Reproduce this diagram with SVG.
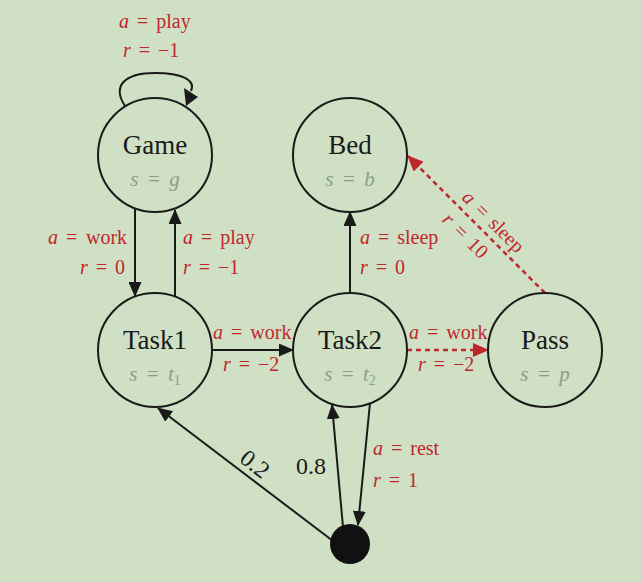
<svg xmlns="http://www.w3.org/2000/svg" width="641" height="582" viewBox="0 0 641 582">
<defs>
<style>
.bg{fill:#cfe0c4}
.node{fill:none;stroke:#1a1a1a;stroke-width:2}
.name{font-family:"Liberation Serif","DejaVu Serif",serif;font-size:27px;fill:#1a1a1a;text-anchor:middle}
.sv{font-family:"Liberation Serif","DejaVu Serif",serif;font-size:21px;fill:#8c9c88;text-anchor:middle;font-style:italic;word-spacing:3px}
.lbl{font-family:"Liberation Serif","DejaVu Serif",serif;font-size:20px;fill:#c0272d;word-spacing:3px}
.num{font-family:"Liberation Serif","DejaVu Serif",serif;font-size:24px;fill:#1a1a1a}
.i{font-style:italic}
.e{fill:none;stroke:#1a1a1a;stroke-width:2}
.ed{fill:none;stroke:#c0272d;stroke-width:2.5;stroke-dasharray:5 4}
</style>
<marker id="ah" viewBox="0 0 15 13" refX="14" refY="6.5" markerWidth="15" markerHeight="13" markerUnits="userSpaceOnUse" orient="auto">
<path d="M0,0 L15,6.5 L0,13 z" fill="#1a1a1a"/>
</marker>
<marker id="ahr" viewBox="0 0 16 14" refX="15" refY="7" markerWidth="16" markerHeight="14" markerUnits="userSpaceOnUse" orient="auto">
<path d="M0,0 L16,7 L0,14 z" fill="#c0272d"/>
</marker>
</defs>
<rect class="bg" x="0" y="0" width="641" height="582"/>

<g id="connectors">
<path class="e" d="M125,106 C112,86 124,73 155,73 C182,73 196,80 191,91"/>
<path d="M198,97 L184,88 L186,106 z" fill="#1a1a1a"/>
<path class="e" d="M135,208 L135,296" marker-end="url(#ah)"/>
<path class="e" d="M175,297 L175,210" marker-end="url(#ah)"/>
<path class="e" d="M350,293 L350,212" marker-end="url(#ah)"/>
<path class="e" d="M212,350 L293,350" marker-end="url(#ah)"/>
<path class="ed" d="M407,350 L488,350" marker-end="url(#ahr)"/>
<path class="ed" d="M545,293 L408,156" marker-end="url(#ahr)"/>
<path class="e" d="M333,541 L158,408" marker-end="url(#ah)"/>
<path class="e" d="M343,527 L332,405" marker-end="url(#ah)"/>
<path class="e" d="M370,403 L358,525" marker-end="url(#ah)"/>

<text class="lbl" x="119" y="28"><tspan class="i">a</tspan> = play</text>
<text class="lbl" x="123" y="57"><tspan class="i">r</tspan> = −1</text>
<text class="lbl" x="48" y="244"><tspan class="i">a</tspan> =<tspan x="86">work</tspan></text>
<text class="lbl" x="80" y="274"><tspan class="i">r</tspan> = 0</text>
<text class="lbl" x="183" y="244"><tspan class="i">a</tspan> = play</text>
<text class="lbl" x="183" y="274"><tspan class="i">r</tspan> = −1</text>
<text class="lbl" x="360" y="244"><tspan class="i">a</tspan> = sleep</text>
<text class="lbl" x="360" y="274"><tspan class="i">r</tspan> = 0</text>
<text class="lbl" x="213" y="339"><tspan class="i">a</tspan> = work</text>
<text class="lbl" x="223" y="371"><tspan class="i">r</tspan> = −2</text>
<text class="lbl" x="409" y="339"><tspan class="i">a</tspan> = work</text>
<text class="lbl" x="418" y="371"><tspan class="i">r</tspan> = −2</text>
<text class="lbl" x="373" y="455"><tspan class="i">a</tspan> = rest</text>
<text class="lbl" x="373" y="487"><tspan class="i">r</tspan> = 1</text>
<text class="lbl" text-anchor="middle" transform="translate(493,222) rotate(45)" y="6"><tspan class="i">a</tspan> = sleep</text>
<text class="lbl" text-anchor="middle" transform="translate(465,236) rotate(45)" y="6"><tspan class="i">r</tspan> = 10</text>
<text class="num" x="296" y="474">0.8</text>
<text class="num" text-anchor="middle" transform="translate(255,464) rotate(38)" y="8">0.2</text>
</g>

<g id="game">
<circle class="node" cx="155" cy="155" r="57"/>
<text class="name" x="155" y="154">Game</text>
<text class="sv" x="155" y="186">s = g</text>
</g>
<g id="bed">
<circle class="node" cx="350" cy="155" r="57"/>
<text class="name" x="350" y="154">Bed</text>
<text class="sv" x="350" y="186">s = b</text>
</g>
<g id="task1">
<circle class="node" cx="155" cy="350" r="57"/>
<text class="name" x="155" y="349">Task1</text>
<text class="sv" x="155" y="381">s = t<tspan font-style="normal" font-size="14" dy="4">1</tspan></text>
</g>
<g id="task2">
<circle class="node" cx="350" cy="350" r="57"/>
<text class="name" x="350" y="349">Task2</text>
<text class="sv" x="350" y="381">s = t<tspan font-style="normal" font-size="14" dy="4">2</tspan></text>
</g>
<g id="pass">
<circle class="node" cx="545" cy="350" r="57"/>
<text class="name" x="545" y="349">Pass</text>
<text class="sv" x="545" y="381">s = p</text>
</g>
<g id="start">
<circle cx="350" cy="544" r="20" fill="#111"/>
</g>
</svg>
